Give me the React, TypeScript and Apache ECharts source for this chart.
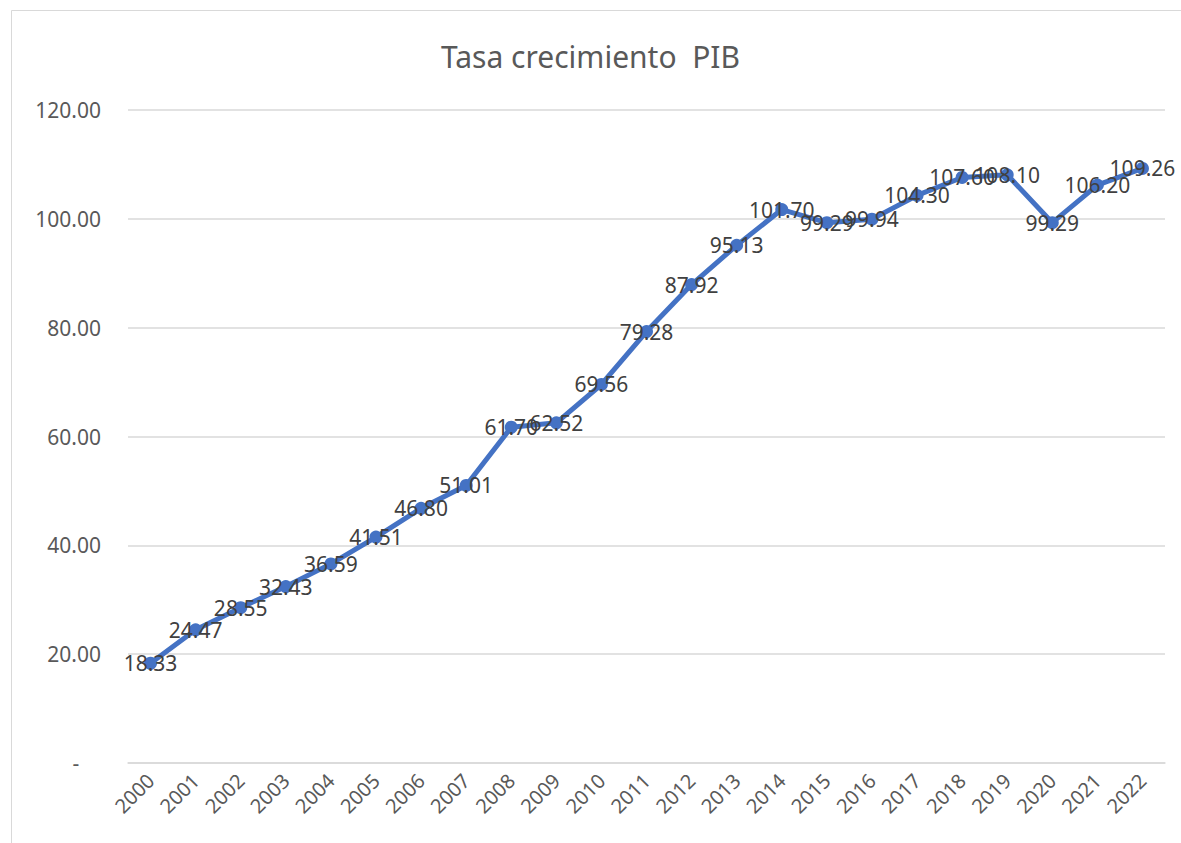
import React, { useEffect, useRef } from "react";
import * as echarts from "echarts";

const years = ["2000","2001","2002","2003","2004","2005","2006","2007","2008","2009","2010","2011","2012","2013","2014","2015","2016","2017","2018","2019","2020","2021","2022"];
const values = [18.33, 24.47, 28.55, 32.43, 36.59, 41.51, 46.80, 51.01, 61.70, 62.52, 69.56, 79.28, 87.92, 95.13, 101.70, 99.29, 99.94, 104.30, 107.60, 108.10, 99.29, 106.20, 109.26];
const title = "Tasa crecimiento  PIB";

export default function App() {
  const ref = useRef<HTMLDivElement>(null);
  useEffect(() => {
    if (!ref.current) return;
    const chart = echarts.init(ref.current, null, { renderer: "svg" });
    const font = "'Noto Sans', 'Open Sans', sans-serif";
    chart.setOption({
      animation: false,
      backgroundColor: "#ffffff",
      graphic: [
        {
          type: "rect",
          shape: { x: 11.5, y: 10.5, width: 1200, height: 900 },
          style: { fill: "none", stroke: "#d9d9d9", lineWidth: 1 },
          silent: true,
        },
      ],
      title: {
        text: title,
        left: "center",
        top: 36,
        textStyle: { fontFamily: font, fontSize: 30, fontWeight: "normal", color: "#595959" },
      },
      grid: { left: 128, right: 16, top: 110, bottom: 80 },
      xAxis: {
        type: "category",
        data: years,
        boundaryGap: true,
        axisLine: { show: true, lineStyle: { color: "#d9d9d9", width: 1.5 } },
        axisTick: { show: false },
        axisLabel: {
          rotate: 45,
          interval: 0,
          margin: 14,
          fontFamily: font,
          fontSize: 20,
          color: "#595959",
        },
      },
      yAxis: {
        type: "value",
        min: 0,
        max: 120,
        interval: 20,
        axisLine: { show: false },
        axisTick: { show: false },
        splitLine: { lineStyle: { color: "#d9d9d9", width: 1.5 } },
        axisLabel: {
          margin: 27,
          fontFamily: font,
          fontSize: 21,
          color: "#595959",
          formatter: (v: number) => (v === 0 ? "-    " : v.toFixed(2)),
        },
      },
      series: [
        {
          type: "line",
          data: values,
          symbol: "circle",
          symbolSize: 13,
          lineStyle: { color: "#4472C4", width: 5 },
          itemStyle: { color: "#4472C4" },
          label: {
            show: true,
            position: "inside",
            fontFamily: font,
            fontSize: 21,
            color: "#404040",
            formatter: (p: any) => Number(p.value).toFixed(2),
          },
          labelLayout: { hideOverlap: false },
        },
      ],
    });
    return () => chart.dispose();
  }, []);
  return <div ref={ref} style={{ position: "absolute", left: 0, top: 0, width: 1181, height: 843 }} />;
}
